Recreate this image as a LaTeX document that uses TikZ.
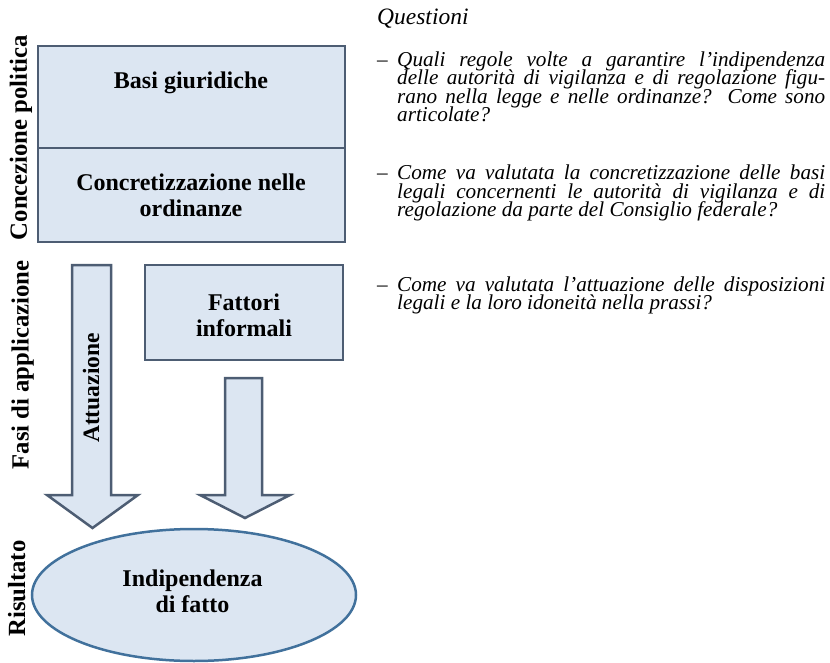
\documentclass[tikz,border=0pt]{standalone}
\usepackage{fontspec}
\setmainfont{Liberation Serif}
\usetikzlibrary{shapes.geometric}
\definecolor{boxfill}{HTML}{DCE6F2}
\definecolor{boxline}{HTML}{4D5D73}
\definecolor{ellline}{HTML}{41719C}
\newcommand\qline[1]{\makebox[428pt][s]{#1}}
\newcommand\qfirst[1]{\makebox[20pt][l]{–}\qline{#1}}
\newcommand\qnext[1]{\hspace*{20pt}\qline{#1}}
\newcommand\qlast[1]{\hspace*{20pt}#1}
\begin{document}
\begin{tikzpicture}[x=1pt,y=-1pt,
  box/.style={draw=boxline, fill=boxfill, line width=2.8pt, inner sep=0pt},
  arrowshape/.style={draw=boxline, fill=boxfill, line width=2.5pt, line join=miter},
  boldtxt/.style={font=\fontsize{24}{26}\selectfont\bfseries, align=center, inner sep=0pt},
  side/.style={font=\fontsize{24.7}{27}\selectfont\bfseries, rotate=90, anchor=base, inner sep=0pt},
  qtxt/.style={font=\fontsize{21.2}{18.5}\selectfont\itshape, inner sep=0pt, anchor=base west}
]
\useasboundingbox (0,0) rectangle (830,663);

% vertical side labels
\node[side] (lpol) at (27,137.5) {Concezione politica};
\node[side] (lapp) at (28.5,365) {Fasi di applicazione};
\node[side] (lris) at (25,588.5) {Risultato};

% upper boxes
\node[box, minimum width=307pt, minimum height=102pt] (basibox) at (191.5,97) {};
\node[box, minimum width=307pt, minimum height=94pt] (concbox) at (191.5,195) {};
\node[boldtxt, anchor=base] (basi) at (191,89) {Basi giuridiche};
\node[boldtxt] (conc) at (191,194.8) {Concretizzazione nelle\\ordinanze};

% informal factors box
\node[box, minimum width=198pt, minimum height=95pt] (fattbox) at (244,312.5) {};
\node[boldtxt] (fatt) at (244,314.8) {Fattori\\informali};

% block arrows
\coordinate (a1tip) at (92.5,528);
\coordinate (a2tip) at (245,518);
\draw[arrowshape] (72,265) -- (111,265) -- (111,495) -- (138,495) -- (a1tip) -- (47,495) -- (72,495) -- cycle;
\draw[arrowshape] (225,378) -- (262,378) -- (262,495) -- (290,495) -- (a2tip) -- (200,495) -- (225,495) -- cycle;
\node[side, font=\fontsize{23.5}{25}\selectfont\bfseries] (att) at (99,388) {Attuazione};

% result ellipse
\node[ellipse, draw=ellline, fill=boxfill, line width=2.5pt, minimum width=324pt, minimum height=132pt, inner sep=0pt] (ris) at (194,595) {};
\node[boldtxt] (indip) at (192.5,590.8) {Indipendenza\\di fatto};

% questions
\node[font=\fontsize{23.5}{25}\selectfont\itshape, inner sep=0pt, anchor=base west] (qtitle) at (377,25) {Questioni};
\node[qtxt] (q1) at (377,66.3) {\parbox[t]{450pt}{\lineskiplimit=-100pt
\qfirst{Quali regole volte a garantire l’indipendenza}\\
\qnext{delle autorità di vigilanza e di regolazione figu-}\\
\qnext{rano nella legge e nelle ordinanze? Come sono}\\
\qlast{articolate?}}};
\node[qtxt] (q2) at (377,180) {\parbox[t]{450pt}{\lineskiplimit=-100pt
\qfirst{Come va valutata la concretizzazione delle basi}\\
\qnext{legali concernenti le autorità di vigilanza e di}\\
\qlast{regolazione da parte del Consiglio federale?}}};
\node[qtxt] (q3) at (377,291) {\parbox[t]{450pt}{\lineskiplimit=-100pt
\qfirst{Come va valutata l’attuazione delle disposizioni}\\
\qlast{legali e la loro idoneità nella prassi?}}};
\end{tikzpicture}
\end{document}
